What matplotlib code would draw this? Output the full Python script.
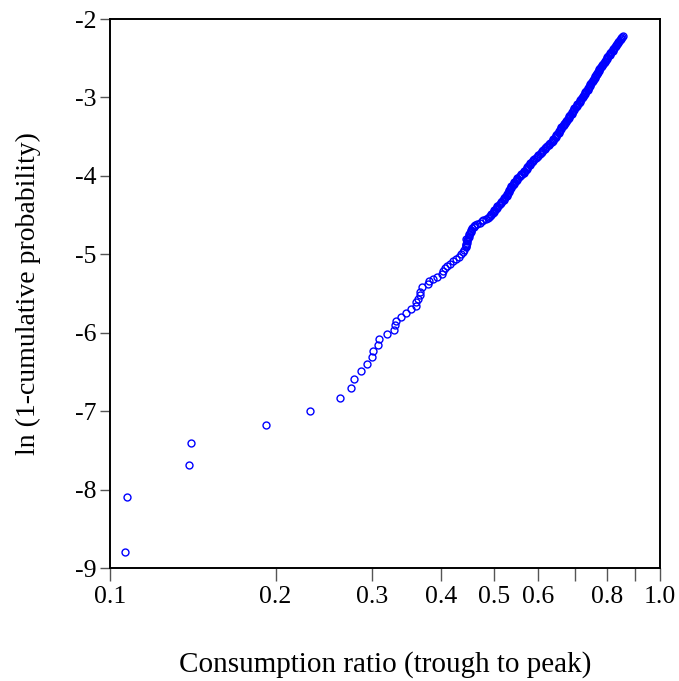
import matplotlib
matplotlib.use("Agg")
import matplotlib.pyplot as plt
from matplotlib.ticker import FixedLocator, FixedFormatter, NullLocator

# Sparse lower-tail observations (read individually)
ratio_tail = [0.1065, 0.1076, 0.1394, 0.1404, 0.1919, 0.231, 0.262, 0.2744, 0.2781,
              0.2864, 0.2936, 0.2995, 0.3007, 0.3066, 0.3083, 0.3189, 0.3285, 0.3303,
              0.3317, 0.3387, 0.3454, 0.3522, 0.3597, 0.3605, 0.3627, 0.3658, 0.3665,
              0.3698, 0.3783, 0.3795, 0.3867, 0.393, 0.401, 0.4025, 0.4065, 0.410]
lnp_tail = [-8.79, -8.10, -7.69, -7.40, -7.18, -7.00, -6.83, -6.71, -6.59,
            -6.49, -6.40, -6.31, -6.23, -6.155, -6.08, -6.02, -5.96, -5.90,
            -5.845, -5.795, -5.745, -5.70, -5.655, -5.61, -5.567, -5.525, -5.475,
            -5.42, -5.375, -5.345, -5.32, -5.29, -5.25, -5.215, -5.17, -5.145]

# Dense upper part (read along the band)
ratio_body = [0.415, 0.420, 0.426, 0.431, 0.435, 0.438, 0.441, 0.443, 0.444, 0.445,
              0.4455, 0.447, 0.449, 0.451, 0.4535, 0.456, 0.459, 0.465, 0.474, 0.482,
              0.488, 0.492, 0.496, 0.500, 0.503, 0.506, 0.509, 0.513, 0.5165, 0.520,
              0.523, 0.526, 0.529, 0.5315, 0.534, 0.537, 0.540, 0.543, 0.547, 0.550,
              0.554, 0.558, 0.562, 0.566, 0.570, 0.573, 0.5765, 0.580, 0.584, 0.588,
              0.594, 0.599, 0.604, 0.609, 0.614, 0.619, 0.624, 0.629, 0.635, 0.639,
              0.643, 0.647, 0.651, 0.655, 0.658, 0.661, 0.665, 0.668, 0.672, 0.676,
              0.680, 0.683, 0.687, 0.691, 0.695, 0.698, 0.703, 0.707, 0.711, 0.715,
              0.719, 0.723, 0.727, 0.731, 0.735, 0.739, 0.743, 0.747, 0.750, 0.754,
              0.757, 0.761, 0.764, 0.768, 0.771, 0.775, 0.779, 0.783, 0.788, 0.793,
              0.797, 0.802, 0.806, 0.811, 0.816, 0.821, 0.826, 0.831, 0.835, 0.840,
              0.845, 0.851, 0.857]
lnp_body = [-5.12, -5.09, -5.06, -5.03, -5.00, -4.97, -4.94, -4.91, -4.88, -4.85,
            -4.82, -4.79, -4.76, -4.73, -4.70, -4.67, -4.64, -4.61, -4.58, -4.55,
            -4.52, -4.495, -4.47, -4.445, -4.42, -4.395, -4.37, -4.345, -4.32, -4.295,
            -4.27, -4.245, -4.22, -4.195, -4.17, -4.145, -4.12, -4.095, -4.07, -4.045,
            -4.02, -3.995, -3.97, -3.945, -3.92, -3.895, -3.87, -3.845, -3.82, -3.795,
            -3.77, -3.745, -3.72, -3.695, -3.67, -3.645, -3.62, -3.595, -3.57, -3.545,
            -3.52, -3.495, -3.47, -3.445, -3.42, -3.395, -3.37, -3.345, -3.32, -3.295,
            -3.27, -3.245, -3.22, -3.195, -3.17, -3.145, -3.12, -3.095, -3.07, -3.045,
            -3.02, -2.995, -2.97, -2.945, -2.92, -2.895, -2.87, -2.845, -2.82, -2.795,
            -2.77, -2.745, -2.72, -2.695, -2.67, -2.645, -2.62, -2.595, -2.57, -2.545,
            -2.52, -2.495, -2.47, -2.445, -2.42, -2.395, -2.37, -2.345, -2.32, -2.295,
            -2.27, -2.245, -2.22]

# Further observations scattered within the dense band
ratio_band = [0.4445, 0.4435, 0.446, 0.4448, 0.449, 0.4488, 0.4535, 0.4535, 0.459, 0.4605,
              0.471, 0.4765, 0.4865,
              0.491, 0.4925, 0.499, 0.500, 0.506, 0.506, 0.5125, 0.5135, 0.5195, 0.520,
              0.526, 0.526, 0.5315, 0.5315, 0.537, 0.537, 0.543, 0.5435, 0.550, 0.5505,
              0.5575, 0.5585, 0.5655, 0.5665, 0.573, 0.5735, 0.5795, 0.5805, 0.5875, 0.5895,
              0.598, 0.600, 0.608, 0.610, 0.618, 0.620, 0.628, 0.6305, 0.6385, 0.6395,
              0.6465, 0.6475, 0.6545, 0.655, 0.661, 0.6615, 0.668, 0.6685, 0.6755, 0.6765,
              0.683, 0.6835, 0.6905, 0.6915, 0.698, 0.699, 0.7065, 0.7075, 0.7145, 0.7155,
              0.7225, 0.7235, 0.7305, 0.7315, 0.7385, 0.7395, 0.7465, 0.747, 0.7535, 0.754,
              0.7605, 0.761, 0.7675, 0.768, 0.7745, 0.7755, 0.7825, 0.784, 0.792, 0.7935,
              0.801, 0.8025, 0.810, 0.812, 0.820, 0.822, 0.830, 0.8315, 0.839, 0.841,
              0.8495, 0.853]
lnp_band = [-4.895, -4.865, -4.835, -4.805, -4.775, -4.745, -4.715, -4.685, -4.655, -4.625,
            -4.595, -4.565, -4.535,
            -4.5075, -4.4825, -4.4575, -4.4325, -4.4075, -4.3825, -4.3575, -4.3325, -4.3075, -4.2825,
            -4.2575, -4.2325, -4.2075, -4.1825, -4.1575, -4.1325, -4.1075, -4.0825, -4.0575, -4.0325,
            -4.0075, -3.9825, -3.9575, -3.9325, -3.9075, -3.8825, -3.8575, -3.8325, -3.8075, -3.7825,
            -3.7575, -3.7325, -3.7075, -3.6825, -3.6575, -3.6325, -3.6075, -3.5825, -3.5575, -3.5325,
            -3.5075, -3.4825, -3.4575, -3.4325, -3.4075, -3.3825, -3.3575, -3.3325, -3.3075, -3.2825,
            -3.2575, -3.2325, -3.2075, -3.1825, -3.1575, -3.1325, -3.1075, -3.0825, -3.0575, -3.0325,
            -3.0075, -2.9825, -2.9575, -2.9325, -2.9075, -2.8825, -2.8575, -2.8325, -2.8075, -2.7825,
            -2.7575, -2.7325, -2.7075, -2.6825, -2.6575, -2.6325, -2.6075, -2.5825, -2.5575, -2.5325,
            -2.5075, -2.4825, -2.4575, -2.4325, -2.4075, -2.3825, -2.3575, -2.3325, -2.3075, -2.2825,
            -2.2575, -2.2325]

x_ticks = [0.1, 0.2, 0.3, 0.4, 0.5, 0.6, 0.7, 0.8, 0.9, 1.0]
x_ticklabels = ["0.1", "0.2", "0.3", "0.4", "0.5", "0.6", "", "0.8", "", "1.0"]
y_ticks = [-9, -8, -7, -6, -5, -4, -3, -2]

plt.rcParams['font.family'] = ['Liberation Serif', 'DejaVu Serif']

fig = plt.figure(figsize=(6.79, 6.81), dpi=100)
ax = fig.add_axes([110/679, 1 - 568/681, 550/679, 549/681])

style = dict(linestyle='none', marker='o', markersize=5.0, markerfacecolor='none',
             markeredgecolor='#0000ff', markeredgewidth=1.0)
ax.plot(ratio_tail + ratio_body, lnp_tail + lnp_body, **style)
ax.plot(ratio_band, lnp_band, **style)

ax.set_xscale('log')
ax.set_xlim(0.1, 1.0)
ax.set_ylim(-9, -2)
ax.xaxis.set_major_locator(FixedLocator(x_ticks))
ax.xaxis.set_major_formatter(FixedFormatter(x_ticklabels))
ax.xaxis.set_minor_locator(NullLocator())
ax.set_yticks(y_ticks)
ax.set_yticklabels([str(v) for v in y_ticks])

ax.tick_params(axis='x', direction='out', length=9, width=1.0, color='#555555',
               labelsize=18.5, pad=4)
ax.tick_params(axis='y', direction='out', length=7, width=1.0, color='#555555',
               labelsize=18.5, pad=3)
for s in ax.spines.values():
    s.set_linewidth(1.4)
    s.set_color('black')

ax.set_xlabel("Consumption ratio (trough to peak)", fontsize=21, labelpad=31)
ax.set_ylabel("ln (1-cumulative probability)", fontsize=20, labelpad=24)

fig.savefig("out.png", dpi=100)
